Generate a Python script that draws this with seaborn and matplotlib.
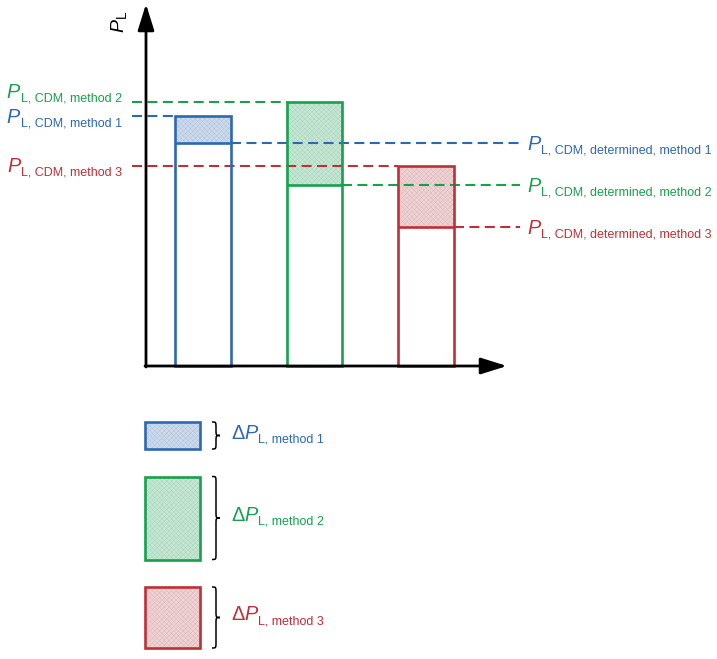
import matplotlib
matplotlib.use("Agg")
import matplotlib.pyplot as plt
from matplotlib.patches import Rectangle, PathPatch
from matplotlib.path import Path
import seaborn as sns

# values in arbitrary P_L units (baseline = 0)
methods = ["method 1", "method 2", "method 3"]
p_cdm = [25.0, 26.4, 20.0]          # P_L, CDM
p_determined = [22.3, 18.1, 13.9]   # P_L, CDM, determined
line_colors = ["#2d68b2", "#17a04e", "#bf2f38"]
fill_colors = ["#cddaeb", "#c6e6d4", "#eed3d5"]
hatch_colors = ["#adc1dd", "#a3d4b8", "#ddb3b6"]

sns.set_theme(style="white")
plt.rcParams["font.family"] = ["Liberation Sans", "DejaVu Sans"]
plt.rcParams["mathtext.fontset"] = "custom"
plt.rcParams["mathtext.rm"] = "Liberation Sans"
plt.rcParams["mathtext.it"] = "Liberation Sans:italic"
plt.rcParams["hatch.linewidth"] = 0.3

W, H = 717, 659
fig = plt.figure(figsize=(W / 100, H / 100), dpi=100)
ax = fig.add_axes([0, 0, 1, 1])

# layout helpers: image pixels -> data units
X0, XS = 203.0, 111.5   # pixel of first bar centre, pixels per category
Y0, YS = 366.0, 10.0    # pixel of baseline, pixels per P unit
BIG, SMALL, DROP = 14.3, 9, 3.5


def dx(px):
    return (px - X0) / XS


def dy(py):
    return (Y0 - py) / YS


def sym_label(x_px, base_px, sub, color, ha="left", delta=False):
    kw = dict(color=color, va="baseline", annotation_clip=False)
    if ha == "left":
        if delta:
            anchor = ax.text(dx(x_px), dy(base_px), "\u0394", fontsize=BIG,
                             color=color, va="baseline")
            p = ax.annotate("P", xy=(1, dy(base_px)), xycoords=(anchor, "data"),
                            fontsize=BIG, style="italic", **kw)
        else:
            p = ax.text(dx(x_px), dy(base_px), "P", fontsize=BIG, style="italic",
                        color=color, va="baseline")
        ax.annotate(sub, xy=(1, dy(base_px + DROP)), xycoords=(p, "data"),
                    xytext=(0.6, 0), textcoords="offset points", fontsize=SMALL, **kw)
    else:
        s = ax.text(dx(x_px), dy(base_px + DROP), sub, fontsize=SMALL, color=color,
                    ha="right", va="baseline")
        ax.annotate("P", xy=(0, dy(base_px)), xycoords=(s, "data"), ha="right",
                    xytext=(-0.6, 0), textcoords="offset points", fontsize=BIG,
                    style="italic", **kw)


sns.barplot(x=methods, y=p_cdm, hue=methods, palette=line_colors, fill=False,
            width=0.5, linewidth=1.9, errorbar=None, legend=False, ax=ax, zorder=3)

half = 0.25
for i, (top, det) in enumerate(zip(p_cdm, p_determined)):
    ax.bar(i, top - det, bottom=det, width=0.5, color=fill_colors[i],
           edgecolor=hatch_colors[i], hatch="xxxxxxx", linewidth=0, zorder=1)
    ax.hlines(det, i - half, i + half, color=line_colors[i], lw=1.9, zorder=3)

dash = dict(lw=1.5, ls=(0, (4.8, 2.6)), zorder=2)
left_x, right_x = dx(132), dx(520)
for i, (top, det) in enumerate(zip(p_cdm, p_determined)):
    ax.hlines(top, left_x, i - half, color=line_colors[i], **dash)
    ax.hlines(det, i + half, right_x, color=line_colors[i], **dash)

# axes arrows
arrow = dict(arrowstyle="-|>,head_length=1.6,head_width=0.5", mutation_scale=10,
             lw=2, color="black", shrinkA=0, shrinkB=0)
ax.annotate("", xy=(dx(146), dy(4)), xytext=(dx(146), dy(367)), arrowprops=arrow)
ax.annotate("", xy=(dx(507), dy(366)), xytext=(dx(145), dy(366)), arrowprops=arrow)
ax.text(dx(119), dy(22), r"$P_{\text{L}}$", rotation=90, fontsize=14,
        ha="center", va="center", color="black")

# left labels (P_L, CDM)
left_base = [123, 98, 172]
for i, m in enumerate(methods):
    sym_label(122, left_base[i], "L, CDM, " + m, line_colors[i], ha="right")

# right labels (P_L, CDM, determined)
for i, m in enumerate(methods):
    base = Y0 - p_determined[i] * YS + 6.5
    sym_label(527, base, "L, CDM, determined, " + m, line_colors[i])


def brace(x0, y0, y1, w=8):
    mid = (y0 + y1) / 2
    r = min((y1 - y0) / 4, 6)
    xm = x0 + w * 0.5
    pts = [(x0, y0), (xm, y0), (xm, y0), (xm, y0 + r),
           (xm, mid - r),
           (xm, mid), (xm, mid), (x0 + w, mid),
           (xm, mid), (xm, mid), (xm, mid + r),
           (xm, y1 - r),
           (xm, y1), (xm, y1), (x0, y1)]
    codes = [Path.MOVETO] + [Path.CURVE4] * 3 + [Path.LINETO] + [Path.CURVE4] * 6 + \
            [Path.LINETO] + [Path.CURVE4] * 3
    pts = [(dx(px), dy(py)) for px, py in pts]
    ax.add_patch(PathPatch(Path(pts, codes), fill=False, lw=1.1, color="black"))


# legend boxes: heights equal to the deltas
top_px = 422.0
for i, m in enumerate(methods):
    delta = p_cdm[i] - p_determined[i]
    bottom_px = top_px + delta * YS
    y_bot = dy(bottom_px)
    ax.add_patch(Rectangle((dx(144.5), y_bot), dx(200) - dx(144.5), delta,
                           facecolor=fill_colors[i], edgecolor=hatch_colors[i],
                           hatch="xxxxxxx", linewidth=0, zorder=1))
    ax.add_patch(Rectangle((dx(144.5), y_bot), dx(200) - dx(144.5), delta,
                           fill=False, edgecolor=line_colors[i], linewidth=1.9, zorder=3))
    brace(212, top_px, bottom_px)
    sym_label(231, (top_px + bottom_px) / 2 + 3, "L, " + m, line_colors[i], delta=True)
    top_px = bottom_px + 27.5

ax.set_xlim(dx(0), dx(W))
ax.set_ylim(dy(H), dy(0))
ax.axis("off")

fig.savefig("out.png", dpi=100)
